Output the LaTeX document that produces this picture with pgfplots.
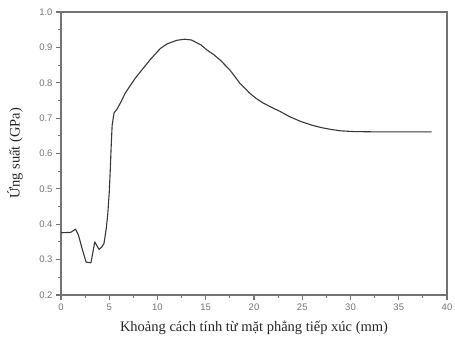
\documentclass[border=0pt]{standalone}
\usepackage{fontspec}
\setmainfont{Liberation Serif}
\newfontfamily\ticksans{Liberation Sans}
\usepackage{pgfplots}
\pgfplotsset{compat=1.18}
\definecolor{axgray}{RGB}{115,115,115}
\definecolor{curve}{RGB}{55,55,55}
\begin{document}
\begin{tikzpicture}
\begin{axis}[
  scale only axis,
  width=386pt, height=283pt,
  xmin=0, xmax=40, ymin=0.2, ymax=1.0,
  xtick={0,5,...,40}, ytick={0.2,0.3,...,1.0},
  minor x tick num=1, minor y tick num=1,
  tick align=outside,
  xtick pos=bottom, ytick pos=left,
  major tick length=5pt, minor tick length=3pt,
  tick style={axgray, line width=1.1pt},
  axis line style={axgray, line width=1.4pt},
  /pgf/number format/assume math mode=true,
  yticklabel style={/pgf/number format/fixed, /pgf/number format/precision=1, /pgf/number format/fixed zerofill},
  ticklabel style={font=\ticksans\fontsize{9.5}{11}\selectfont, text=axgray},
  xlabel={Khoảng cách tính từ mặt phẳng tiếp xúc (mm)},
  ylabel={Ứng suất (GPa)},
  label style={font=\fontsize{14.5}{17}\selectfont, text=black!85},
  xlabel style={at={(axis description cs:0.5,0)}, anchor=center, yshift=-33pt},
  ylabel style={at={(axis description cs:0,0.5)}, anchor=center, rotate=0, yshift=46pt},
]
\addplot[curve, line width=1.1pt, line join=round] coordinates {
(0,0.376) (1.0,0.377) (1.5,0.386) (1.8,0.37) (2.2,0.33) (2.6,0.293) (3.1,0.291)
(3.3,0.32) (3.5,0.350) (3.7,0.34) (3.95,0.329) (4.2,0.335) (4.45,0.345)
(4.7,0.39) (4.85,0.43) (5.0,0.49) (5.1,0.55) (5.2,0.62) (5.3,0.68) (5.5,0.715)
(5.8,0.725) (6.2,0.745) (6.6,0.768) (7.0,0.785) (7.7,0.813) (8.2,0.83)
(9.2,0.864) (10.3,0.897) (11.0,0.910) (12.0,0.920) (12.8,0.923) (13.5,0.921)
(14.5,0.907) (15.1,0.893) (15.8,0.880) (16.5,0.864) (17.5,0.836) (18.55,0.798)
(19.5,0.772) (20.2,0.756) (21.0,0.742) (22.0,0.728) (22.7,0.719) (23.7,0.704)
(24.8,0.691) (26.0,0.680) (27.0,0.673) (28.0,0.668) (29.0,0.664) (30.3,0.662)
(33,0.661) (38.4,0.661)
};
\end{axis}
\pgfresetboundingbox
\path (-61pt,-44pt) rectangle (394pt,295pt);
\end{tikzpicture}
\end{document}
